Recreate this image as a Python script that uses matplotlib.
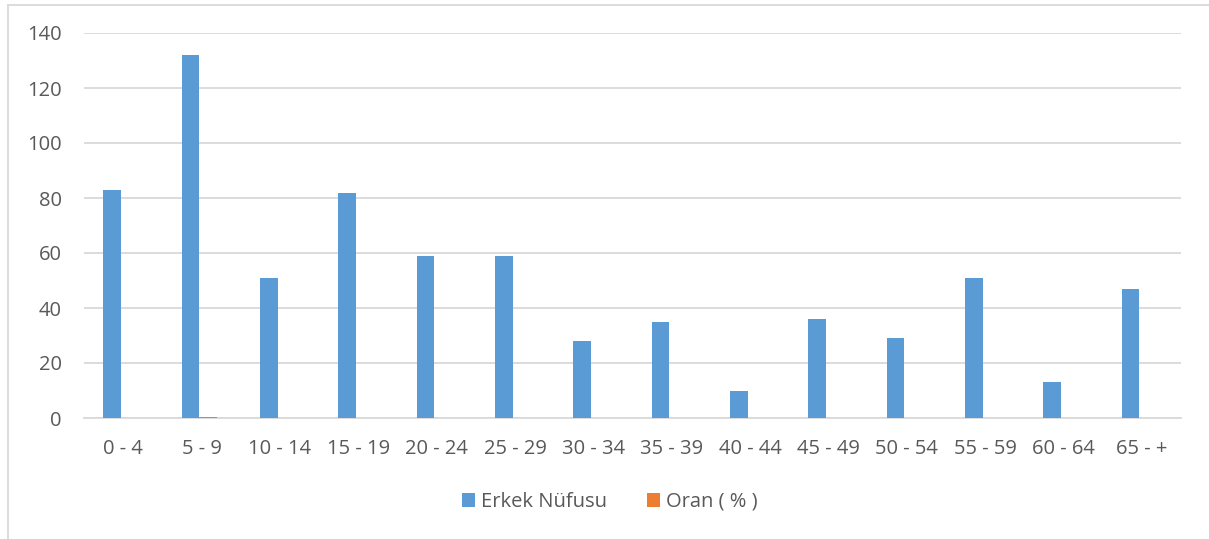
import numpy as np
import matplotlib
matplotlib.use("Agg")
from matplotlib import pyplot as plt
from matplotlib.lines import Line2D

# age groups and values
kategoriler = ["0 - 4", "5 - 9", "10 - 14", "15 - 19", "20 - 24", "25 - 29", "30 - 34",
               "35 - 39", "40 - 44", "45 - 49", "50 - 54", "55 - 59", "60 - 64", "65 - +"]
erkek = [83, 132, 51, 82, 59, 59, 28, 35, 10, 36, 29, 51, 13, 47]
oran = [0.116, 0.185, 0.071, 0.115, 0.083, 0.083, 0.039, 0.049, 0.014, 0.050, 0.041, 0.071, 0.018, 0.066]

plt.rcParams["font.family"] = ["Open Sans", "DejaVu Sans"]
txt = "#595959"
grid = "#d9d9d9"

fig = plt.figure(figsize=(12.09, 5.39), dpi=100)
ax = fig.add_axes([84/1209, 121/539, 1097/1209, 385/539])

x = np.arange(len(kategoriler))
w = 0.225
ax.bar(x - w/2 - 0.03, erkek, w, color="#5b9bd5", label="Erkek Nüfusu", zorder=3)
ax.bar(x + w/2 - 0.03, oran, w, color="#ed7d31", label="Oran ( % )", zorder=3)

ax.set_xlim(-0.5, len(kategoriler) - 0.5)
ax.set_ylim(0, 140)
ax.set_yticks(range(0, 141, 20))
ax.set_xticks(x)
ax.set_xticklabels(kategoriler)
ax.grid(axis="y", color=grid, linewidth=1.3, zorder=0)
for s in ["top", "right", "left"]:
    ax.spines[s].set_visible(False)
ax.spines["bottom"].set_color(grid)
ax.spines["bottom"].set_linewidth(1.3)
ax.tick_params(axis="both", length=0, colors=txt, labelsize=14.5)
ax.tick_params(axis="x", pad=15)
ax.tick_params(axis="y", pad=16)

leg = fig.legend(loc="center", bbox_to_anchor=(610/1209, 1 - 502/539), ncol=2, frameon=False,
                 fontsize=14.5, handlelength=0.65, handleheight=0.65, handletextpad=0.3,
                 columnspacing=2.0)
for t in leg.get_texts():
    t.set_color(txt)

# outer chart border
fig.add_artist(Line2D([8/1209, 8/1209], [0, 1 - 5/539], color=grid, linewidth=1.3))
fig.add_artist(Line2D([8/1209, 1], [1 - 5/539, 1 - 5/539], color=grid, linewidth=1.3))

plt.savefig("out.png", dpi=100)
